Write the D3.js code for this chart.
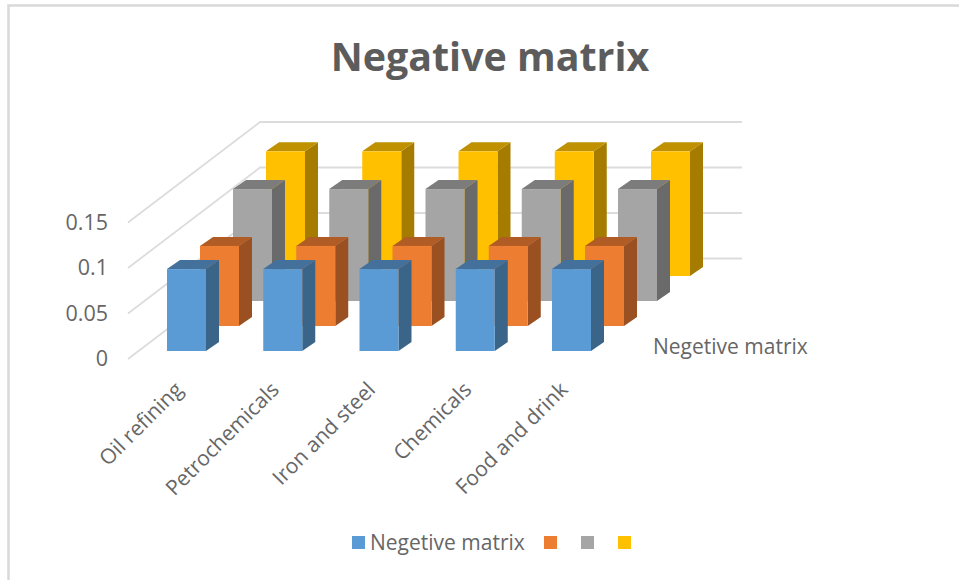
<!DOCTYPE html>
<html>
<head>
<meta charset="utf-8">
<script src="https://cdn.jsdelivr.net/npm/d3@7"></script>
<style>
  html, body { margin: 0; padding: 0; background: #fff; }
  svg { display: block; font-family: "Open Sans", Lato, sans-serif; }
</style>
</head>
<body>
<svg id="chart" width="959" height="580"></svg>
<script>
const categories = ["Oil refining", "Petrochemicals", "Iron and steel", "Chemicals", "Food and drink"];
const seriesNames = ["Negetive matrix", "", "", ""];
const seriesValues = [
  [0.09, 0.09, 0.09, 0.09, 0.09],
  [0.088, 0.088, 0.088, 0.088, 0.088],
  [0.123, 0.123, 0.123, 0.123, 0.123],
  [0.137, 0.137, 0.137, 0.137, 0.137]
];
const yTicks = [0, 0.05, 0.1, 0.15];
const frontColors = ["#5b9bd5", "#ed7d31", "#a5a5a5", "#ffc000"];
const topColors = ["#44719b", "#b05c24", "#7c7c7c", "#bf9000"];
const sideColors = ["#3a6488", "#9a5020", "#6a6a6a", "#a57c00"];

const svg = d3.select("#chart");
const textColor = "#666666";

// Chart frame
svg.append("path")
  .attr("d", "M8.5,580V5.5H959")
  .attr("fill", "none").attr("stroke", "#d9d9d9").attr("stroke-width", 2.5);

// Oblique projection: category runs along x, series runs into the depth,
// value raises the mark straight up.
const xCat = d3.scalePoint().domain(categories).range([167, 552]);
const depth = d3.scalePoint().domain(d3.range(seriesValues.length)).range([0, 1]);
const depthDx = 99, depthDy = -75, baseY = 351;
const barWidth = 39, sideDx = 13, sideDy = -9;
const heightScale = d3.scaleLinear().domain([0, 0.15]).range([0, 136.5]);

// Gridlines along the side wall and the back wall
const wallFrontX = 128, wallBackX = 260, wallRightX = 742, wallFrontY = 359, wallBackY = 258.5;
svg.append("g").selectAll("path").data(yTicks).join("path")
  .attr("d", d => {
    const h = heightScale(d);
    return `M${wallFrontX},${wallFrontY - h}L${wallBackX},${wallBackY - h}L${wallRightX},${wallBackY - h}`;
  })
  .attr("fill", "none").attr("stroke", "#dcdcdc").attr("stroke-width", 1.8);

// Value axis labels
svg.append("g").selectAll("text").data(yTicks).join("text")
  .attr("x", 108).attr("y", d => wallFrontY - heightScale(d) + 7)
  .attr("text-anchor", "end").attr("font-size", 21.5).attr("fill", textColor)
  .text(d => d3.format("~g")(d));

// Bars, painted from the back row to the front row
const rows = svg.append("g").selectAll("g")
  .data(d3.range(seriesValues.length).reverse()).join("g");
rows.each(function (s) {
  const g = d3.select(this);
  const bars = categories.map((c, i) => {
    const x = xCat(c) + depth(s) * depthDx;
    const y1 = baseY + depth(s) * depthDy;
    return { x, y1, y0: y1 - heightScale(seriesValues[s][i]) };
  });
  const poly = (sel, color, pts) => sel.append("path")
    .attr("d", b => d3.line()(pts(b)) + "Z").attr("fill", color);
  const bar = g.selectAll("g").data(bars).join("g");
  poly(bar, sideColors[s], b => [[b.x + barWidth, b.y0], [b.x + barWidth + sideDx, b.y0 + sideDy],
    [b.x + barWidth + sideDx, b.y1 + sideDy], [b.x + barWidth, b.y1]]);
  poly(bar, topColors[s], b => [[b.x, b.y0], [b.x + sideDx, b.y0 + sideDy],
    [b.x + barWidth + sideDx, b.y0 + sideDy], [b.x + barWidth, b.y0]]);
  bar.append("rect").attr("x", b => b.x).attr("y", b => b.y0)
    .attr("width", barWidth).attr("height", b => b.y1 - b.y0).attr("fill", frontColors[s]);
});

// Slanted category labels
svg.append("g").selectAll("text").data(categories).join("text")
  .attr("transform", c => `translate(${xCat(c) + 17},${391}) rotate(-45)`)
  .attr("text-anchor", "end").attr("font-size", 21).attr("fill", textColor)
  .text(c => c);

// Series axis label
svg.append("text").attr("x", 653).attr("y", 354)
  .attr("font-size", 21).attr("fill", textColor).text(seriesNames[0]);

// Title
svg.append("text").attr("x", 490).attr("y", 71).attr("text-anchor", "middle")
  .attr("font-size", 39.4).attr("font-weight", 700).attr("fill", "#5c5c5c").text("Negative matrix");

// Legend
const legendX = [352, 544, 581, 618];
const legend = svg.append("g").selectAll("g").data(seriesNames).join("g")
  .attr("transform", (d, i) => `translate(${legendX[i]},536)`);
legend.append("rect").attr("width", 13).attr("height", 13).attr("fill", (d, i) => frontColors[i]);
legend.append("text").attr("x", 18).attr("y", 14).attr("font-size", 21).attr("fill", textColor).text(d => d);
</script>
</body>
</html>
